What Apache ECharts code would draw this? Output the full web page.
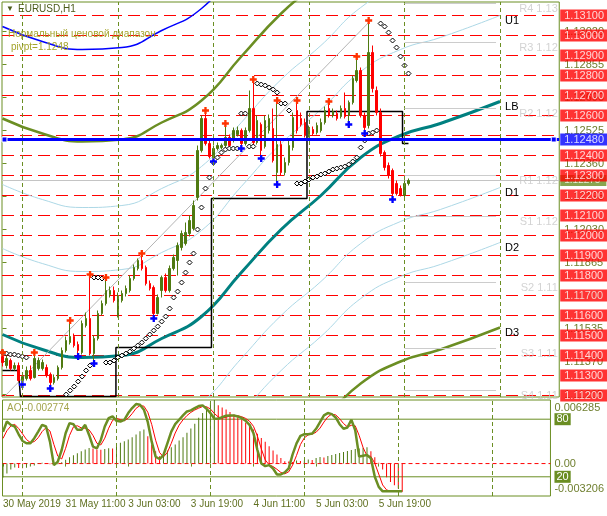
<!DOCTYPE html>
<html><head><meta charset="utf-8">
<script src="https://cdn.jsdelivr.net/npm/echarts@6/dist/echarts.min.js"></script>
<style>html,body{margin:0;padding:0;background:#fff}#c{width:607px;height:516px}</style>
</head><body><div id="c"></div>
<script>
// ---- DATA (bar index i = H1 bars from 30 May 2019 19:00) ----
const opens = [1.11395,1.11350,1.11375,1.11335,1.11350,1.11275,1.11285,1.11325,1.11290,1.11335,
1.11335,1.11340,1.11305,1.11265,1.11285,1.11340,1.11425,1.11465,1.11495,1.11455,
1.11415,1.11550,1.11585,1.11410,1.11485,1.11610,1.11660,1.11705,1.11725,1.11600,
1.11675,1.11710,1.11725,1.11785,1.11835,1.11875,1.11840,1.11760,1.11740,1.11610,
1.11725,1.11790,1.11725,1.11835,1.11875,1.11940,1.11960,1.12010,1.12035,1.12190,
1.12425,1.12585,1.12460,1.12390,1.12435,1.12440,1.12450,1.12490,1.12475,1.12505,
1.12525,1.12460,1.12525,1.12635,1.12465,1.12555,1.12445,1.12525,1.12535,1.12315,
1.12455,1.12315,1.12365,1.12440,1.12625,1.12585,1.12565,1.12505,1.12530,1.12515,
1.12525,1.12565,1.12635,1.12600,1.12610,1.12595,1.12635,1.12600,1.12665,1.12775,
1.12825,1.12600,1.12550,1.12915,1.12725,1.12615,1.12415,1.12350,1.12325,1.12260,
1.12235,1.12200,1.12260];
const closes = [1.11365,1.11385,1.11335,1.11350,1.11275,1.11295,1.11325,1.11285,1.11385,1.11375,
1.11365,1.11300,1.11265,1.11290,1.11340,1.11425,1.11475,1.11495,1.11450,1.11425,
1.11560,1.11585,1.11410,1.11485,1.11610,1.11660,1.11725,1.11725,1.11675,1.11700,
1.11710,1.11735,1.11785,1.11840,1.11875,1.11835,1.11760,1.11735,1.11610,1.11690,
1.11790,1.11725,1.11835,1.11890,1.11950,1.12010,1.12015,1.12075,1.12150,1.12425,
1.12585,1.12460,1.12395,1.12435,1.12450,1.12450,1.12490,1.12450,1.12525,1.12525,
1.12460,1.12525,1.12635,1.12465,1.12575,1.12425,1.12575,1.12585,1.12375,1.12455,
1.12315,1.12365,1.12450,1.12590,1.12525,1.12555,1.12500,1.12535,1.12510,1.12550,
1.12565,1.12625,1.12600,1.12620,1.12585,1.12635,1.12595,1.12665,1.12785,1.12825,
1.12600,1.12540,1.12915,1.12735,1.12615,1.12410,1.12340,1.12300,1.12210,1.12210,
1.12200,1.12260,1.12275];
const lows = [1.11345,1.11335,1.11325,1.11325,1.11270,1.11265,1.11275,1.11275,1.11285,1.11325,
1.11325,1.11290,1.11245,1.11255,1.11275,1.11330,1.11415,1.11455,1.11440,1.11405,
1.11405,1.11540,1.11400,1.11370,1.11475,1.11600,1.11650,1.11690,1.11665,1.11590,
1.11665,1.11695,1.11715,1.11775,1.11825,1.11825,1.11750,1.11725,1.11595,1.11605,
1.11690,1.11715,1.11715,1.11825,1.11800,1.11925,1.11950,1.11995,1.12025,1.12175,
1.12415,1.12450,1.12385,1.12380,1.12425,1.12430,1.12440,1.12440,1.12465,1.12495,
1.12445,1.12450,1.12515,1.12455,1.12455,1.12395,1.12435,1.12510,1.12365,1.12265,
1.12300,1.12300,1.12350,1.12425,1.12510,1.12545,1.12490,1.12490,1.12500,1.12505,
1.12515,1.12555,1.12590,1.12590,1.12575,1.12585,1.12585,1.12565,1.12655,1.12765,
1.12590,1.12520,1.12535,1.12715,1.12600,1.12395,1.12325,1.12285,1.12190,1.12200,
1.12195,1.12190,1.12250];
const highs = [1.11405,1.11400,1.11385,1.11365,1.11365,1.11310,1.11345,1.11350,1.11405,1.11390,
1.11380,1.11355,1.11315,1.11305,1.11350,1.11440,1.11495,1.11565,1.11510,1.11470,
1.11575,1.11615,1.11795,1.11500,1.11625,1.11675,1.11780,1.11745,1.11745,1.11715,
1.11725,1.11750,1.11800,1.11855,1.11885,1.11900,1.11850,1.11775,1.11750,1.11705,
1.11800,1.11810,1.11850,1.11905,1.11965,1.12025,1.12065,1.12100,1.12175,1.12450,
1.12600,1.12615,1.12475,1.12450,1.12465,1.12460,1.12550,1.12505,1.12540,1.12545,
1.12535,1.12540,1.12725,1.12770,1.12600,1.12565,1.12600,1.12605,1.12635,1.12665,
1.12475,1.12390,1.12475,1.12615,1.12665,1.12615,1.12585,1.12550,1.12545,1.12565,
1.12585,1.12645,1.12660,1.12635,1.12625,1.12650,1.12715,1.12675,1.12800,1.12885,
1.12840,1.12615,1.13065,1.12950,1.12745,1.12635,1.12425,1.12365,1.12335,1.12275,
1.12250,1.12275,1.12285];

const upFractals = [0, 8, 17, 22, 26, 35, 51, 56, 63, 69, 74, 82, 89, 92];
const downFractals = [5, 12, 19, 23, 38, 53, 60, 65, 69, 87, 91, 98];

const sar = [1.11415,1.11410,1.11405,1.11405,1.11400,1.11395,1.11390,null,null,null,
null,null,null,null,null,null,1.11205,1.11225,1.11245,1.11270,
1.11295,1.11325,1.11350,1.11790,1.11790,1.11785,1.11365,1.11365,1.11375,1.11390,
1.11400,1.11410,1.11420,1.11435,1.11450,1.11465,1.11485,1.11505,1.11525,1.11545,
1.11570,1.11595,1.11635,1.11690,1.11720,1.11765,1.11815,1.11865,1.11910,1.12030,
1.12140,1.12235,1.12290,1.12365,1.12390,1.12415,1.12430,1.12435,1.12435,1.12435,
1.12610,1.12610,1.12445,1.12445,1.12760,1.12755,1.12750,1.12740,1.12730,1.12715,
1.12660,1.12660,1.12625,null,1.12260,1.12260,1.12270,1.12280,1.12290,1.12295,
1.12305,1.12310,1.12320,1.12330,1.12335,1.12340,1.12345,1.12355,1.12370,1.12390,
1.12440,1.12475,1.12510,1.12515,1.12525,1.13060,1.13045,1.13015,1.12975,1.12940,
1.12895,1.12850,1.12810];

const stepStarts = [0, 5, 29, 53, 77, 101];
const stepValues = [1.11325, 1.11195, 1.11440, 1.12185, 1.12620, 1.12460];

const bandIdx = [0, 10, 20, 30, 40, 50, 60, 70, 80, 90, 100, 110, 125];
const bandLB = [1.11505,1.11430,1.11390,1.11400,1.11485,1.11595,1.11815,1.12030,1.12200,1.12390,1.12500,1.12560,1.12670];
const bandU1 = [1.11935,1.11860,1.11820,1.11830,1.11915,1.12025,1.12245,1.12460,1.12630,1.12820,1.12930,1.12990,1.13100];
const bandD1 = [1.11075,1.11000,1.10960,1.10970,1.11055,1.11165,1.11385,1.11600,1.11770,1.11960,1.12070,1.12130,1.12240];
const bandU2 = [1.12255,1.12180,1.12140,1.12150,1.12235,1.12345,1.12565,1.12780,1.12950,1.13140,1.13250,1.13310,1.13420];
const bandD2 = [1.10800,1.10725,1.10685,1.10695,1.10780,1.10890,1.11110,1.11325,1.11495,1.11685,1.11795,1.11855,1.11965];
const bandU3 = [1.12585,1.12510,1.12470,1.12480,1.12565,1.12675,1.12895,1.13110,1.13280,1.13470,1.13580,1.13640,1.13750];
const bandD3 = [1.10375,1.10300,1.10260,1.10270,1.10355,1.10465,1.10685,1.10900,1.11070,1.11260,1.11370,1.11430,1.11540];
const bandU4 = [1.13045,1.12970,1.12930,1.12940,1.13025,1.13135,1.13355,1.13570,1.13740,1.13930,1.14040,1.14100,1.14210];

const trendIdx = [0.5, 92];
const trendVal = [1.11195, 1.13065];

const gridLevels = [1.131,1.130,1.129,1.128,1.127,1.126,1.125,1.124,1.123,1.122,1.121,1.120,1.119,1.118,1.117,1.116,1.115,1.114,1.113,1.112];
const axisValues = [1.13020,1.12855,1.12690,1.12525,1.12360,1.12195,1.12030,1.11865,1.11700,1.11535,1.11370,1.11205];
const pivotValue = 1.1248;
const bidValue = 1.12275;
const pivotNames = ['R4','R3','R2','R1','S1','S2','S3','S4'];
const pivotLevels = [1.13160,1.12965,1.12635,1.12300,1.12095,1.11765,1.11435,1.11225];
const pivotFrom = 101, pivotTo = 124;
const daySeparators = [5, 29, 53, 77, 101, 125];
const xLabelIdx = [0, 16, 32, 48, 64, 80, 96];
const xLabels = ['30 May 2019','31 May 11:00','3 Jun 03:00','3 Jun 19:00','4 Jun 11:00','5 Jun 03:00','5 Jun 19:00'];

const ao = [-0.00138,-0.00099,-0.00059,-0.00040,-0.00044,-0.00046,-0.00042,-0.00030,-0.00020,-0.00005,
0.00007,0.00003,-0.00007,-0.00013,-0.00007,0.00013,0.00037,0.00062,0.00082,0.00102,
0.00122,0.00138,0.00155,0.00148,0.00140,0.00136,0.00144,0.00152,0.00148,0.00178,
0.00205,0.00220,0.00237,0.00260,0.00287,0.00319,0.00336,0.00270,0.00188,0.00122,
0.00072,0.00089,0.00129,0.00161,0.00188,0.00227,0.00260,0.00304,0.00346,0.00393,
0.00452,0.00501,0.00544,0.00593,0.006285,0.00577,0.00554,0.00534,0.00511,0.00485,
0.00458,0.00435,0.00403,0.00369,0.00336,0.00294,0.00254,0.00215,0.00171,0.00129,
0.00089,0.00056,0.00023,0.00020,0.00015,0.00030,0.00025,0.00030,0.00040,0.00036,
0.00054,0.00064,0.00059,0.00074,0.00084,0.00094,0.00104,0.00114,0.00124,0.00134,
0.00143,0.00150,0.00156,0.00161,0.00122,0.00062,0.00007,-0.00059,-0.00135,-0.00181,
-0.00215,-0.00247,-0.002774];
const stochMain = [67,77.6,74.1,72.4,64.3,57.3,54.9,54.9,60.2,67.1,
74.1,72.4,56.6,32.2,35.7,47.9,65.4,75.9,74.8,68.9,
68.9,74.1,63.6,51.4,49.7,58.4,72.4,81.1,82.9,78.3,
77.6,79.4,86.4,91.6,95.8,95.1,89.9,76.9,56.6,40.9,
38.5,42.7,54.9,67.1,74.8,79.4,83.9,88.1,89.2,91.6,
93.7,94.4,90.9,86.4,80.4,80.4,82.2,83.6,83.9,83.9,
82.9,81.1,78.3,74.1,65.4,47.9,33.9,31.1,32.2,28.7,
22.4,22.4,24.5,28.7,43.4,54.9,62.6,64.3,64.3,65.0,
70,77,84,86.4,85.3,81.8,74.8,70,71.3,79.4,
68.5,41,42,42.7,39.2,20,9.5,4.9,4.9,4.9,
5,5,5];
const stochSignal = [60,68,72.9,74.7,70.3,64.7,58.8,55.7,56.7,60.7,
67.1,71.2,67.7,53.7,41.5,38.6,49.7,63.1,72.0,73.2,
70.9,70.6,68.9,63.0,54.9,53.2,60.2,70.6,78.8,80.8,
79.6,78.4,81.1,85.8,91.3,94.2,93.6,87.3,74.5,58.1,
45.3,40.7,45.4,54.9,65.6,73.8,79.4,83.8,87.1,89.6,
91.5,93.2,93.0,90.6,85.9,82.4,81.0,82.1,83.2,83.8,
83.6,82.6,80.8,77.8,72.6,62.5,49.1,37.6,32.4,30.7,
27.8,24.5,23.1,25.2,32.2,42.3,53.6,60.6,63.7,64.5,
66.4,70.7,77.0,82.5,85.2,84.5,80.6,75.5,72.0,73.6,
73.1,63.0,50.5,41.9,41.3,34.0,22.9,11.5,6.4,4.9,
4.9,5,5];
const aoMax = 0.006285, aoMin = -0.003206;
const stochLevels = [80, 20];

// ---- STYLE ----
const FONT = 'Liberation Sans, Arial, sans-serif';
const OLIVE = '#6b8e23';
const BULL = '#4f7a11';
const BEAR = '#ff0000';
const TXT = '#6f7f2f';
const XMIN = -0.125, XMAX = 139.875;
const YMIN = 1.111925, YMAX = 1.131675;

const N = opens.length;
const candleData = opens.map((o, i) => [i, o, closes[i], lows[i], highs[i]]);
const stepData = [];
for (let i = 0; i < N; i++) {
  let k = 0;
  for (let s = 0; s < stepStarts.length; s++) if (i >= stepStarts[s]) k = s;
  stepData.push([i, stepValues[k]]);
}
const sarData = [];
sar.forEach((v, i) => { if (v != null) sarData.push([i, v]); });

function band(vals) { return bandIdx.map((x, k) => [x, vals[k]]); }
function curve(vals, color, width, label) {
  const s = {
    type: 'line', data: band(vals), smooth: 0.5, symbol: 'none', silent: true, z: 2,
    xAxisIndex: 0, yAxisIndex: 0, lineStyle: { color: color, width: width }
  };
  if (label) s.endLabel = { show: true, formatter: label, color: '#000', fontSize: 11, fontFamily: FONT, distance: 5, offset: [0, 5] };
  return s;
}
// horizontal levels drawn as a broken line series across the whole axis range
function hLevels(xi, yi, z, levels, color, type, width) {
  const d = [];
  levels.forEach(v => { d.push([XMIN, v], [XMAX, v], [XMAX, '-']); });
  return { type: 'line', xAxisIndex: xi, yAxisIndex: yi, data: d, z: z, silent: true, symbol: 'none', connectNulls: false,
    lineStyle: { color: color, type: type, width: width }, itemStyle: { color: color } };
}
// value boxes on the right edge of the price panel
function priceBoxes(levels, bg, z, fontSize, lineHeight) {
  return { type: 'scatter', xAxisIndex: 0, yAxisIndex: 0, z: z, silent: true, clip: false, symbolSize: 0,
    data: levels.map(v => ({ value: [XMAX, v], name: v.toFixed(5) })),
    label: { show: true, position: 'right', distance: 1, formatter: '{b}', color: '#fff', backgroundColor: bg,
      fontSize: fontSize, lineHeight: lineHeight, padding: [0, 6, 0, 4], fontFamily: FONT } };
}
// helper series that only carries marker lines
function refLines(xi, yi, z, color, type, width, data) {
  return {
    type: 'line', xAxisIndex: xi, yAxisIndex: yi, data: [], z: z, silent: true,
    markLine: { silent: true, precision: 6, symbol: ['none', 'none'], animation: false,
      lineStyle: { color: color, type: type, width: width }, label: { show: false }, data: data }
  };
}

const plus = 'path://M2,0L4,0L4,2L6,2L6,4L4,4L4,6L2,6L2,4L0,4L0,2L2,2Z';
const labelledLevels = gridLevels.filter(v => Math.abs(v - pivotValue) > 0.0003);

const option = {
  animation: false,
  backgroundColor: '#ffffff',
  title: [
    { text: '▼', left: 6, top: 5, padding: 0, textStyle: { fontSize: 8, color: '#4b5b1b', fontWeight: 'normal', fontFamily: FONT } },
    { text: 'EURUSD,H1', left: 18, top: 4, padding: 0, textStyle: { fontSize: 10, color: '#4b5b1b', fontWeight: 'normal', fontFamily: FONT } },
    { text: 'Нормальный ценовой диапазон', left: 8, top: 29, padding: 0, textStyle: { fontSize: 10, color: '#a4a42c', fontWeight: 'normal', fontFamily: FONT } },
    { text: 'pivpt=' + pivotValue.toFixed(4), left: 11, top: 42, padding: 0, textStyle: { fontSize: 10, color: '#a4a42c', fontWeight: 'normal', fontFamily: FONT } },
    { text: 'AO ' + ao[ao.length - 1].toFixed(6), left: 7, top: 403, padding: 0, textStyle: { fontSize: 10, color: '#a4a44c', fontWeight: 'normal', fontFamily: FONT } }
  ],
  grid: [
    { left: 2, top: 2, width: 560, height: 395, show: true, borderColor: OLIVE, borderWidth: 1, backgroundColor: 'transparent' },
    { left: 2, top: 400, width: 560, height: 96, show: true, borderColor: OLIVE, borderWidth: 1, backgroundColor: 'transparent' }
  ],
  xAxis: [
    { type: 'value', gridIndex: 0, min: XMIN, max: XMAX, axisLine: { show: false }, axisTick: { show: false }, axisLabel: { show: false }, splitLine: { show: false } },
    { type: 'value', gridIndex: 1, min: XMIN, max: XMAX, axisLine: { show: false }, splitLine: { show: false },
      axisTick: { show: true, customValues: xLabelIdx, length: 3, lineStyle: { color: OLIVE } },
      axisLabel: { show: true, customValues: xLabelIdx, align: 'left', margin: 3, color: '#5f6f1f', fontSize: 10, fontFamily: FONT,
        formatter: v => { const k = xLabelIdx.indexOf(Math.round(v)); return k >= 0 ? xLabels[k] : ''; } } }
  ],
  yAxis: [
    { type: 'value', gridIndex: 0, position: 'right', min: YMIN, max: YMAX, axisLine: { show: false }, splitLine: { show: false },
      axisTick: { show: true, customValues: axisValues, length: 4, lineStyle: { color: OLIVE } },
      axisLabel: { show: true, customValues: axisValues, margin: 5, color: TXT, fontSize: 11, fontFamily: FONT, formatter: v => v.toFixed(5) } },
    { type: 'value', gridIndex: 1, position: 'right', min: aoMin, max: aoMax, axisLine: { show: false }, splitLine: { show: false }, axisTick: { show: false },
      axisLabel: { show: true, customValues: [aoMax, 0, aoMin], margin: 4, color: TXT, fontSize: 11, fontFamily: FONT,
        formatter: v => v > 0.001 ? '{a|' + aoMax.toFixed(6) + '}' : (v < -0.001 ? '{b|' + aoMin.toFixed(6) + '}' : '0.00'),
        rich: { a: { padding: [16, 0, 0, 0], color: TXT, fontSize: 11, fontFamily: FONT }, b: { padding: [0, 0, 14, 0], color: TXT, fontSize: 11, fontFamily: FONT } } } },
    { type: 'value', gridIndex: 1, position: 'right', min: 0, max: 100, axisLine: { show: false }, splitLine: { show: false }, axisTick: { show: false },
      axisLabel: { show: true, customValues: stochLevels, margin: 4, color: '#fff', backgroundColor: OLIVE, padding: [0, 2, 0, 2], fontSize: 11, lineHeight: 12, fontFamily: FONT } }
  ],
  series: [
    hLevels(0, 0, 1, [bidValue], '#c4c4c4', 'solid', 1),
    hLevels(0, 0, 1, gridLevels, '#ff0000', [12, 6], 1),
    refLines(0, 0, 1, OLIVE, [4, 3], 1, daySeparators.map(d => ({ xAxis: d }))),
    refLines(0, 0, 1, '#cccccc', 'solid', 1, pivotLevels.map(v => [{ coord: [pivotFrom, v] }, { coord: [pivotTo, v] }])),
    curve(bandU4, '#0000ff', 1.5),
    curve(bandU3, OLIVE, 2.5),
    curve(bandU2, '#add8e6', 1),
    curve(bandU1, '#add8e6', 1, 'U1'),
    curve(bandLB, '#008080', 3, 'LB'),
    curve(bandD1, '#add8e6', 1, 'D1'),
    curve(bandD2, '#add8e6', 1, 'D2'),
    curve(bandD3, OLIVE, 2.5, 'D3'),
    { type: 'line', xAxisIndex: 0, yAxisIndex: 0, data: trendIdx.map((x, k) => [x, trendVal[k]]), symbol: 'none', silent: true, z: 2,
      lineStyle: { color: '#b4b4b4', width: 1 } },
    { type: 'line', xAxisIndex: 0, yAxisIndex: 0, data: stepData, step: 'middle', symbol: 'none', silent: true, z: 2,
      lineStyle: { color: '#000', width: 1.5 } },
    { type: 'candlestick', xAxisIndex: 0, yAxisIndex: 0, data: candleData, barWidth: 2, z: 3, silent: true,
      itemStyle: { color: BULL, color0: BEAR, borderColor: BULL, borderColor0: BEAR, borderWidth: 1 } },
    { type: 'scatter', xAxisIndex: 0, yAxisIndex: 0, data: sarData, symbol: 'diamond', symbolSize: 5, z: 4, silent: true,
      itemStyle: { color: '#fff', borderColor: '#000', borderWidth: 1, opacity: 1 } },
    { type: 'scatter', xAxisIndex: 0, yAxisIndex: 0, data: upFractals.map(i => [i, highs[i]]), symbol: plus, symbolSize: 7, symbolOffset: [0, -2], z: 4, silent: true,
      itemStyle: { color: '#ff3300', opacity: 1 } },
    { type: 'scatter', xAxisIndex: 0, yAxisIndex: 0, data: downFractals.map(i => [i, lows[i]]), symbol: plus, symbolSize: 7, symbolOffset: [0, 2], z: 4, silent: true,
      itemStyle: { color: '#0000ff', opacity: 1 } },
    hLevels(0, 0, 5, [pivotValue], '#0000ff', 'solid', 3),
    { type: 'scatter', xAxisIndex: 0, yAxisIndex: 0, data: [[0.5, pivotValue], [138.5, pivotValue]], symbol: 'rect', symbolSize: 5, z: 6, silent: true,
      itemStyle: { color: '#0000ff', borderColor: '#fff', borderWidth: 1, opacity: 1 } },
    { type: 'scatter', xAxisIndex: 0, yAxisIndex: 0, z: 6, silent: true, symbolSize: 0,
      data: pivotLevels.map((v, k) => ({ value: [139.5, v], name: pivotNames[k] + ' ' + v.toFixed(5).slice(0, 4) })),
      label: { show: true, position: 'left', distance: 0, formatter: '{b}', color: '#c8c8c8', fontSize: 11, fontFamily: FONT, offset: [0, 5] } },
    // right-hand value boxes
    priceBoxes([bidValue], OLIVE, 7, 10, 11),
    priceBoxes(labelledLevels, '#ff0000', 8, 11, 12),
    priceBoxes([pivotValue], '#0000ff', 9, 11, 12),
    // ---- AO panel ----
    hLevels(1, 1, 1, [0], '#ff0000', [4, 3], 1),
    refLines(1, 1, 1, OLIVE, [4, 3], 1, daySeparators.map(d => ({ xAxis: d }))),
    hLevels(1, 2, 1, stochLevels, OLIVE, 'solid', 1),
    { type: 'bar', xAxisIndex: 1, yAxisIndex: 1, barWidth: 1, z: 2, silent: true,
      data: ao.map((v, i) => ({ value: [i, v], itemStyle: { color: (i === 0 || v > ao[i - 1]) ? BULL : BEAR } })) },
    { type: 'line', xAxisIndex: 1, yAxisIndex: 2, data: stochSignal.map((v, i) => [i, v]), symbol: 'none', silent: true, z: 3,
      lineStyle: { color: '#ff0000', width: 1 } },
    { type: 'line', xAxisIndex: 1, yAxisIndex: 2, data: stochMain.map((v, i) => [i, v]), symbol: 'none', silent: true, z: 4,
      lineStyle: { color: OLIVE, width: 2.5 } }
  ]
};
const chart = echarts.init(document.getElementById('c'), null, { renderer: 'canvas', width: 607, height: 516 });
chart.setOption(option);
</script></body></html>
